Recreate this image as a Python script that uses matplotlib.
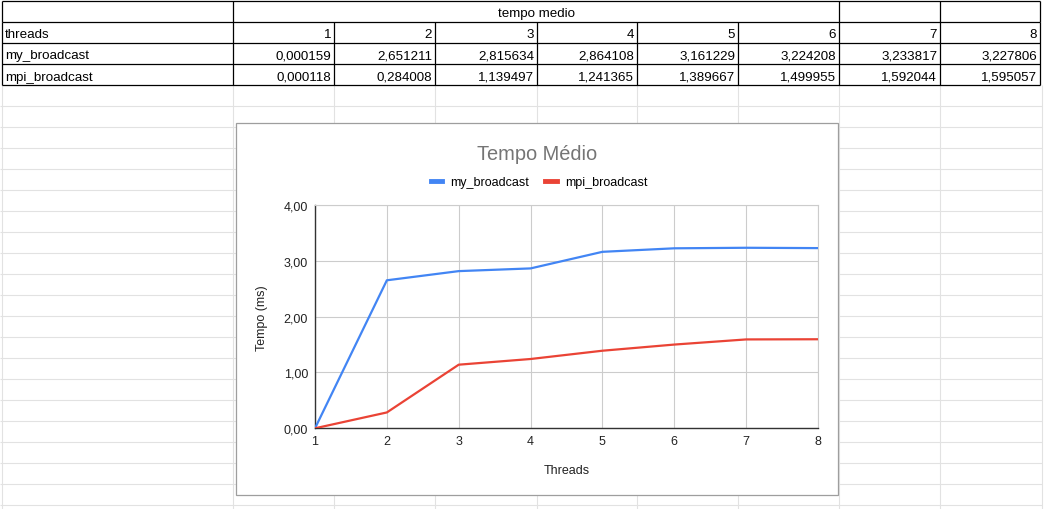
import matplotlib
matplotlib.use("Agg")
import matplotlib.pyplot as plt
from matplotlib.patches import Rectangle

plt.rcParams["font.family"] = ["Liberation Sans", "DejaVu Sans"]

threads = [1, 2, 3, 4, 5, 6, 7, 8]
my_broadcast = [0.000159, 2.651211, 2.815634, 2.864108, 3.161229, 3.224208, 3.233817, 3.227806]
mpi_broadcast = [0.000118, 0.284008, 1.139497, 1.241365, 1.389667, 1.499955, 1.592044, 1.595057]
series_names = ["my_broadcast", "mpi_broadcast"]
y_ticks = [0, 1, 2, 3, 4]

BLUE = "#4285f4"
RED = "#ea4335"
GRID = "#e2e2e2"

# spreadsheet layout in pixels
col_edges = [2, 233, 334, 435, 537, 637, 738, 839, 940, 1040]
row_edges = [2, 23, 44, 65, 86]


def fmt(v, digits=6):
    return f"{v:.{digits}f}".replace(".", ",")


fig = plt.figure(figsize=(10.48, 5.10), dpi=100)
bg = fig.add_axes([0, 0, 1, 1])
bg.set_xlim(0, 1048)
bg.set_ylim(510, 0)
bg.axis("off")

# empty sheet cells below the table
sheet_rows = list(range(107, 510, 21))
bg.hlines(sheet_rows, 0, 1042, color=GRID, lw=0.8, zorder=1)
bg.vlines(col_edges[:-1] + [1042], 86, 510, color=GRID, lw=0.8, zorder=1)

# table borders
bg.hlines(row_edges, col_edges[0], col_edges[-1], color="black", lw=0.9, zorder=2)
bg.vlines([2, 233, 839, 940, 1040], row_edges[0], row_edges[1], color="black", lw=0.9, zorder=2)
bg.vlines(col_edges, row_edges[1], row_edges[-1], color="black", lw=0.9, zorder=2)

cell_font = 9.6
text_shift = 2
bg.text((233 + 839) / 2, 12.5 + text_shift, "tempo medio", ha="center", va="center", fontsize=cell_font)
row_labels = ["threads"] + series_names
row_values = [[str(t) for t in threads], [fmt(v) for v in my_broadcast], [fmt(v) for v in mpi_broadcast]]
for r, (label, vals) in enumerate(zip(row_labels, row_values)):
    yc = (row_edges[r + 1] + row_edges[r + 2]) / 2 + text_shift
    bg.text(5, yc, label, ha="left", va="center", fontsize=cell_font)
    for c, txt in enumerate(vals):
        bg.text(col_edges[c + 2] - 3, yc, txt, ha="right", va="center", fontsize=cell_font)

# chart frame
bg.add_patch(Rectangle((236, 124), 602, 372, facecolor="white", edgecolor="#9e9e9e", lw=0.9, zorder=3))
bg.text(537, 155, "Tempo Médio", ha="center", va="center", fontsize=14.4, color="#757575", zorder=4)
bg.text(262, 318, "Tempo (ms)", ha="center", va="center", rotation=90, fontsize=9, color="#222222", zorder=4)
bg.text(566.5, 471, "Threads", ha="center", va="center", fontsize=9, color="#222222", zorder=4)

# plot area
left, right, top, bottom = 315, 818, 206, 429.3
ax = fig.add_axes([left / 1048, (510 - bottom) / 510, (right - left) / 1048, (bottom - top) / 510])
ax.set_facecolor("none")
l1, = ax.plot(threads, my_broadcast, color=BLUE, lw=1.6, label=series_names[0], zorder=3)
l2, = ax.plot(threads, mpi_broadcast, color=RED, lw=1.6, label=series_names[1], zorder=3)
ax.set_xlim(threads[0], threads[-1])
ax.set_ylim(y_ticks[0], y_ticks[-1])
ax.set_xticks(threads)
ax.set_yticks(y_ticks)
ax.set_yticklabels([fmt(v, 2) for v in y_ticks])
ax.grid(True, color="#cccccc", lw=0.8)
ax.tick_params(length=0, labelsize=9, colors="#222222")
ax.tick_params(axis="y", pad=5)
ax.tick_params(axis="x", pad=5)
for side in ["top", "right"]:
    ax.spines[side].set_color("#cccccc")
    ax.spines[side].set_linewidth(0.8)
for side in ["left", "bottom"]:
    ax.spines[side].set_color("#333333")
    ax.spines[side].set_linewidth(1.0)

leg = fig.legend(handles=[l1, l2], loc="center", bbox_to_anchor=(539 / 1048, 1 - 183 / 510),
                 ncol=2, frameon=False, fontsize=9, handlelength=0.9, handletextpad=0.65,
                 columnspacing=1.3)
for line in leg.get_lines():
    line.set_linewidth(3.5)

fig.savefig("out.png", dpi=100)
